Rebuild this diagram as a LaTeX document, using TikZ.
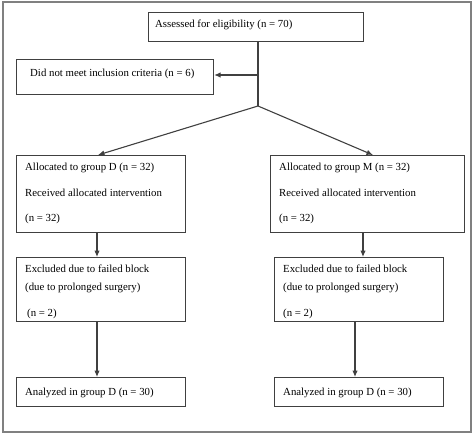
\documentclass[tikz,border=0pt]{standalone}
\usepackage{fontspec}
\setmainfont{Liberation Serif}
\usetikzlibrary{arrows.meta}
\begin{document}
\begin{tikzpicture}[x=1pt,y=-1pt,
  box/.style={draw=black!75,line width=1.15pt,inner sep=0pt,anchor=north west},
  txt/.style={anchor=base west,inner sep=0pt,font=\fontsize{10.8}{12}\selectfont,text=black},
  conn/.style={draw=black!75,line width=1.1pt},
  arr/.style={conn,-{Latex[length=6.5pt,width=5.5pt]}}]
\useasboundingbox (0,0) rectangle (474,434);
\draw[draw=black!50,line width=1.6pt] (3,2) rectangle (471,432);
% boxes
\node[box,minimum width=215pt,minimum height=29pt] (top) at (148,12) {};
\node[box,minimum width=197pt,minimum height=35pt] (excl) at (16,59) {};
\node[box,minimum width=169pt,minimum height=77pt] (allocD) at (16,155) {};
\node[box,minimum width=194pt,minimum height=77pt] (allocM) at (270,155) {};
\node[box,minimum width=169pt,minimum height=64pt] (exD) at (16,257) {};
\node[box,minimum width=169pt,minimum height=64pt] (exM) at (274,257) {};
\node[box,minimum width=169pt,minimum height=29pt] (anD) at (16,377) {};
\node[box,minimum width=169pt,minimum height=29pt] (anM) at (274,377) {};
% texts
\node[txt] (t1) at (155,27) {Assessed for eligibility (n = 70)};
\node[txt] (t2) at (30,76) {Did not meet inclusion criteria (n = 6)};
\node[txt] (t3a) at (25,170) {Allocated to group D (n = 32)};
\node[txt] (t3b) at (25,196) {Received allocated intervention};
\node[txt] (t3c) at (25,221) {(n = 32)};
\node[txt] (t4a) at (279,170) {Allocated to group M (n = 32)};
\node[txt] (t4b) at (279,196) {Received allocated intervention};
\node[txt] (t4c) at (279,221) {(n = 32)};
\node[txt] (t5a) at (25,272) {Excluded due to failed block};
\node[txt] (t5b) at (25,290) {(due to prolonged surgery)};
\node[txt] (t5c) at (27,316) {(n = 2)};
\node[txt] (t6a) at (283,272) {Excluded due to failed block};
\node[txt] (t6b) at (283,290) {(due to prolonged surgery)};
\node[txt] (t6c) at (283,316) {(n = 2)};
\node[txt] (t7) at (25,395) {Analyzed in group D (n = 30)};
\node[txt] (t8) at (283,395) {Analyzed in group D (n = 30)};
% connectors
\coordinate (stem) at (258,75);
\coordinate (junc) at (258,106);
\coordinate (inD) at (98,155);
\coordinate (inM) at (373,155);
\draw[conn] (top.south -| junc) -- (junc);
\draw[arr] (stem) -- (stem -| excl.east);
\draw[arr] (junc) -- (inD);
\draw[arr] (junc) -- (inM);
\coordinate (dD) at (97,0);
\coordinate (dM) at (363,0);
\coordinate (dM2) at (355,0);
\draw[arr] (allocD.south -| dD) -- (exD.north -| dD);
\draw[arr] (allocM.south -| dM) -- (exM.north -| dM);
\draw[arr] (exD.south -| dD) -- (anD.north -| dD);
\draw[arr] (exM.south -| dM2) -- (anM.north -| dM2);
\end{tikzpicture}
\end{document}
